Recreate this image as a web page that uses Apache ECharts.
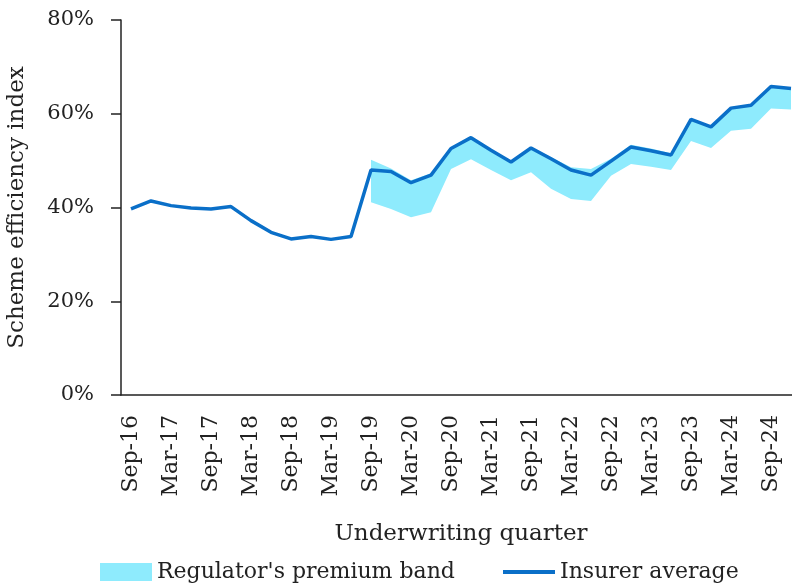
<!DOCTYPE html>
<html>
<head>
<meta charset="utf-8">
<script src="https://cdn.jsdelivr.net/npm/echarts@6/dist/echarts.min.js"></script>
<style>
  html, body { margin: 0; padding: 0; background: #fff; }
  #chart { width: 792px; height: 584px; }
</style>
</head>
<body>
<div id="chart"></div>
<script>
// Quarterly categories
const quarters = [
  'Sep-16', 'Dec-16', 'Mar-17', 'Jun-17', 'Sep-17', 'Dec-17', 'Mar-18', 'Jun-18',
  'Sep-18', 'Dec-18', 'Mar-19', 'Jun-19', 'Sep-19', 'Dec-19', 'Mar-20', 'Jun-20',
  'Sep-20', 'Dec-20', 'Mar-21', 'Jun-21', 'Sep-21', 'Dec-21', 'Mar-22', 'Jun-22',
  'Sep-22', 'Dec-22', 'Mar-23', 'Jun-23', 'Sep-23', 'Dec-23', 'Mar-24', 'Jun-24',
  'Sep-24', 'Dec-24'
]

// Insurer average (%)
const insurerAvg = [
  39.7, 41.4, 40.4, 39.9, 39.7, 40.2, 37.2, 34.7,
  33.3, 33.8, 33.2, 33.8, 48.0, 47.7, 45.3, 46.9,
  52.6, 54.9, 52.2, 49.7, 52.7, 50.4, 48.0, 46.9,
  49.9, 52.9, 52.1, 51.2, 58.8, 57.2, 61.2, 61.8,
  65.8, 65.4
]

// Regulator's premium band (%), starts at Sep-19
const bandLow = [
  null, null, null, null, null, null, null, null,
  null, null, null, null, 41.1, 39.7, 37.9, 39.0,
  48.2, 50.3, 48.0, 45.8, 47.5, 44.0, 41.8, 41.4,
  46.8, 49.3, 48.7, 48.0, 54.2, 52.7, 56.4, 56.8,
  61.1, 60.9
]
const bandHigh = [
  null, null, null, null, null, null, null, null,
  null, null, null, null, 50.2, 48.3, 45.8, 47.3,
  52.9, 55.0, 52.4, 49.9, 52.9, 50.8, 48.6, 48.2,
  50.4, 53.4, 52.6, 51.6, 58.9, 57.3, 61.3, 61.9,
  65.9, 65.5
]

const yTicks = [0, 20, 40, 60, 80]

const bandWidth = bandHigh.map((v, i) => (v == null ? null : +(v - bandLow[i]).toFixed(2)))

const fontFamily = '"DejaVu Serif", serif'
const ink = '#222'
const bandColor = '#8EEBFD'
const lineColor = '#0A6FC8'

const chart = echarts.init(document.getElementById('chart'))

chart.setOption({
  animation: false,
  textStyle: { fontFamily: fontFamily, color: ink },
  // plot runs past the right edge of the canvas, as in the original
  grid: {
    left: 121,
    width: 680,
    top: 20,
    bottom: 189,
    outerBoundsMode: 'none'
  },
  legend: [
    {
      data: [{ name: "Regulator's premium band", icon: 'rect' }],
      left: 100,
      top: 561,
      itemWidth: 52,
      itemHeight: 18,
      padding: 0,
      textStyle: { fontFamily: fontFamily, fontSize: 22, color: ink }
    },
    {
      data: [{ name: 'Insurer average', icon: 'rect' }],
      left: 503,
      top: 561,
      itemWidth: 52,
      itemHeight: 4,
      padding: 0,
      textStyle: { fontFamily: fontFamily, fontSize: 22, color: ink }
    }
  ],
  xAxis: {
    type: 'category',
    data: quarters,
    boundaryGap: true,
    name: 'Underwriting quarter',
    nameLocation: 'middle',
    nameGap: 128,
    nameTextStyle: { fontFamily: fontFamily, fontSize: 23, color: ink },
    axisLine: { lineStyle: { color: ink, width: 1.5 } },
    axisTick: { interval: 1, length: 10, lineStyle: { color: ink, width: 1.5 } },
    axisLabel: {
      interval: 1,
      rotate: 90,
      margin: 20,
      fontFamily: fontFamily,
      fontSize: 22,
      color: ink
    }
  },
  yAxis: {
    type: 'value',
    min: yTicks[0],
    max: yTicks[yTicks.length - 1],
    interval: 20,
    name: 'Scheme efficiency index',
    nameLocation: 'middle',
    nameGap: 92,
    nameTextStyle: { fontFamily: fontFamily, fontSize: 23, color: ink },
    axisLine: { show: true, lineStyle: { color: ink, width: 1.5 } },
    axisTick: { show: true, length: 10, lineStyle: { color: ink, width: 1.5 } },
    splitLine: { show: false },
    axisLabel: {
      margin: 27,
      fontFamily: fontFamily,
      fontSize: 21,
      color: ink,
      formatter: '{value}%'
    }
  },
  series: [
    {
      name: 'band-base',
      type: 'line',
      stack: 'band',
      data: bandLow,
      symbol: 'none',
      lineStyle: { opacity: 0 },
      silent: true
    },
    {
      name: "Regulator's premium band",
      type: 'line',
      stack: 'band',
      data: bandWidth,
      symbol: 'none',
      itemStyle: { color: bandColor },
      lineStyle: { opacity: 0 },
      areaStyle: { color: bandColor, opacity: 1 }
    },
    {
      name: 'Insurer average',
      type: 'line',
      data: insurerAvg,
      symbol: 'none',
      itemStyle: { color: lineColor },
      lineStyle: { color: lineColor, width: 3.5 }
    }
  ]
})
</script>
</body>
</html>
